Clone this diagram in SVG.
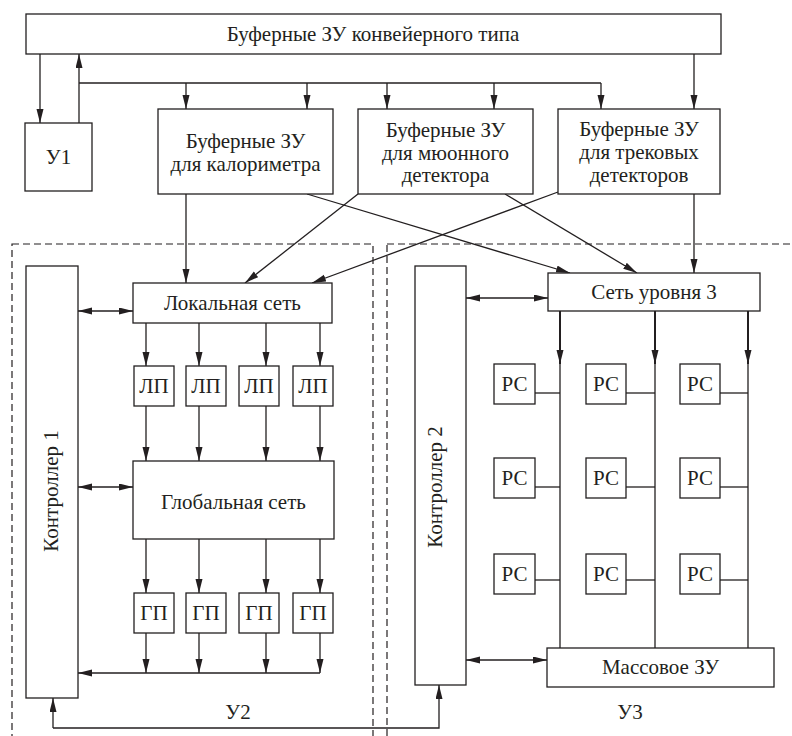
<svg xmlns="http://www.w3.org/2000/svg" width="792" height="736" viewBox="0 0 792 736">
  <style>
    .box { fill: #ffffff; stroke: #231f20; stroke-width: 1.3; }
    .ln { fill: none; stroke: #231f20; stroke-width: 1.3; }
    .thick { fill: none; stroke: #231f20; stroke-width: 2; }
    .dash { fill: none; stroke: #231f20; stroke-width: 1.2; stroke-dasharray: 7 4; }
    text { font-family: "Liberation Serif", "Times New Roman", serif; font-size: 21px; fill: #231f20; text-anchor: middle; }
  </style>
  <defs>
    <marker id="arr" markerUnits="userSpaceOnUse" markerWidth="14" markerHeight="8" refX="14" refY="3.5" orient="auto-start-reverse">
      <path d="M0,0 L14,3.5 L0,7 z" fill="#231f20"/>
    </marker>
  </defs>

  <rect width="792" height="736" fill="#ffffff"/>

  <!-- subsystem frames У2 / У3 -->
  <g id="frames">
    <rect class="dash" x="12" y="244" width="361" height="520"/>
    <rect class="dash" x="387" y="244" width="430" height="520"/>
    <text x="238" y="719">У2</text>
    <text x="630" y="719">У3</text>
  </g>

  <!-- connectors -->
  <g id="connectors">
    <!-- top level -->
    <line class="ln" x1="40" y1="54" x2="40" y2="123" marker-end="url(#arr)"/>
    <line class="ln" x1="79" y1="123" x2="79" y2="54" marker-end="url(#arr)"/>
    <line class="ln" x1="79" y1="83" x2="601" y2="83"/>
    <line class="ln" x1="186" y1="83" x2="186" y2="109" marker-end="url(#arr)"/>
    <line class="ln" x1="307" y1="83" x2="307" y2="109" marker-end="url(#arr)"/>
    <line class="ln" x1="387" y1="83" x2="387" y2="109" marker-end="url(#arr)"/>
    <line class="ln" x1="494" y1="83" x2="494" y2="109" marker-end="url(#arr)"/>
    <line class="ln" x1="601" y1="83" x2="601" y2="109" marker-end="url(#arr)"/>
    <line class="ln" x1="694" y1="54" x2="694" y2="109" marker-end="url(#arr)"/>

    <!-- buffers to networks -->
    <line class="ln" x1="186" y1="194" x2="186" y2="283" marker-end="url(#arr)"/>
    <line class="ln" x1="358" y1="194" x2="245" y2="283" marker-end="url(#arr)"/>
    <line class="ln" x1="558" y1="192" x2="312" y2="283" marker-end="url(#arr)"/>
    <line class="ln" x1="307" y1="194" x2="570" y2="273" marker-end="url(#arr)"/>
    <line class="ln" x1="505" y1="194" x2="637" y2="273" marker-end="url(#arr)"/>
    <line class="ln" x1="694" y1="194" x2="694" y2="273" marker-end="url(#arr)"/>

    <!-- controller 1 links -->
    <line class="ln" x1="78" y1="311" x2="133" y2="311" marker-start="url(#arr)" marker-end="url(#arr)"/>
    <line class="ln" x1="78" y1="487" x2="133" y2="487" marker-start="url(#arr)" marker-end="url(#arr)"/>

    <!-- local network to ЛП -->
    <line class="ln" x1="146" y1="323" x2="146" y2="366" marker-end="url(#arr)"/>
    <line class="ln" x1="199" y1="323" x2="199" y2="366" marker-end="url(#arr)"/>
    <line class="ln" x1="266" y1="323" x2="266" y2="366" marker-end="url(#arr)"/>
    <line class="ln" x1="320" y1="323" x2="320" y2="366" marker-end="url(#arr)"/>
    <!-- ЛП to global network -->
    <line class="ln" x1="146" y1="406" x2="146" y2="461" marker-end="url(#arr)"/>
    <line class="ln" x1="199" y1="406" x2="199" y2="461" marker-end="url(#arr)"/>
    <line class="ln" x1="266" y1="406" x2="266" y2="461" marker-end="url(#arr)"/>
    <line class="ln" x1="320" y1="406" x2="320" y2="461" marker-end="url(#arr)"/>
    <!-- global network to ГП -->
    <line class="ln" x1="146" y1="539" x2="146" y2="593" marker-end="url(#arr)"/>
    <line class="ln" x1="199" y1="539" x2="199" y2="593" marker-end="url(#arr)"/>
    <line class="ln" x1="266" y1="539" x2="266" y2="593" marker-end="url(#arr)"/>
    <line class="ln" x1="320" y1="539" x2="320" y2="593" marker-end="url(#arr)"/>
    <!-- ГП to collector bus -->
    <line class="ln" x1="146" y1="633" x2="146" y2="673" marker-end="url(#arr)"/>
    <line class="ln" x1="199" y1="633" x2="199" y2="673" marker-end="url(#arr)"/>
    <line class="ln" x1="266" y1="633" x2="266" y2="673" marker-end="url(#arr)"/>
    <line class="ln" x1="320" y1="633" x2="320" y2="673" marker-end="url(#arr)"/>
    <line class="ln" x1="320" y1="673" x2="78" y2="673" marker-end="url(#arr)"/>

    <!-- controller 1 to controller 2 -->
    <line class="ln" x1="53" y1="728" x2="53" y2="698" marker-end="url(#arr)"/>
    <polyline class="ln" points="53,728 439,728 439,685" marker-end="url(#arr)"/>

    <!-- controller 2 links -->
    <line class="ln" x1="466" y1="298" x2="548" y2="298" marker-start="url(#arr)" marker-end="url(#arr)"/>
    <line class="ln" x1="466" y1="660" x2="547" y2="660" marker-start="url(#arr)" marker-end="url(#arr)"/>

    <!-- level-3 buses -->
    <line class="thick" x1="560" y1="311" x2="560" y2="364" marker-end="url(#arr)"/>
    <line class="thick" x1="655" y1="311" x2="655" y2="364" marker-end="url(#arr)"/>
    <line class="thick" x1="748" y1="311" x2="748" y2="364" marker-end="url(#arr)"/>
    <line class="ln" x1="560" y1="360" x2="560" y2="648"/>
    <line class="ln" x1="655" y1="360" x2="655" y2="648"/>
    <line class="ln" x1="748" y1="360" x2="748" y2="648"/>

    <!-- РС taps -->
    <line class="ln" x1="535" y1="393" x2="560" y2="393"/>
    <line class="ln" x1="626" y1="393" x2="655" y2="393"/>
    <line class="ln" x1="720" y1="393" x2="748" y2="393"/>
    <line class="ln" x1="535" y1="487" x2="560" y2="487"/>
    <line class="ln" x1="626" y1="487" x2="655" y2="487"/>
    <line class="ln" x1="720" y1="487" x2="748" y2="487"/>
    <line class="ln" x1="535" y1="580" x2="560" y2="580"/>
    <line class="ln" x1="626" y1="580" x2="655" y2="580"/>
    <line class="ln" x1="720" y1="580" x2="748" y2="580"/>
  </g>

  <!-- nodes -->
  <g id="buf-pipeline">
    <rect class="box" x="26" y="14" width="695" height="40"/>
    <text x="373" y="41">Буферные ЗУ конвейерного типа</text>
  </g>
  <g id="u1">
    <rect class="box" x="25" y="123" width="67" height="68"/>
    <text x="58.5" y="164">У1</text>
  </g>
  <g id="buf-calorimeter">
    <rect class="box" x="158" y="109" width="175" height="85"/>
    <text x="245.5" y="148">Буферные ЗУ</text>
    <text x="245.5" y="171">для калориметра</text>
  </g>
  <g id="buf-muon">
    <rect class="box" x="358" y="109" width="175" height="85"/>
    <text x="445.5" y="137">Буферные ЗУ</text>
    <text x="445.5" y="159.5">для мюонного</text>
    <text x="445.5" y="182">детектора</text>
  </g>
  <g id="buf-tracker">
    <rect class="box" x="558" y="109" width="162" height="85"/>
    <text x="639" y="136">Буферные ЗУ</text>
    <text x="639" y="159">для трековых</text>
    <text x="639" y="182">детекторов</text>
  </g>

  <g id="controller1">
    <rect class="box" x="26" y="266" width="52" height="432"/>
    <text transform="translate(58 491) rotate(-90)" x="0" y="0">Контроллер 1</text>
  </g>
  <g id="local-net">
    <rect class="box" x="133" y="283" width="199" height="40"/>
    <text x="232.5" y="310">Локальная сеть</text>
  </g>
  <g id="lp1"><rect class="box" x="134" y="366" width="40" height="40"/><text x="154" y="393">ЛП</text></g>
  <g id="lp2"><rect class="box" x="186" y="366" width="40" height="40"/><text x="206" y="393">ЛП</text></g>
  <g id="lp3"><rect class="box" x="239" y="366" width="40" height="40"/><text x="259" y="393">ЛП</text></g>
  <g id="lp4"><rect class="box" x="293" y="366" width="40" height="40"/><text x="313" y="393">ЛП</text></g>
  <g id="global-net">
    <rect class="box" x="133" y="461" width="201" height="78"/>
    <text x="233.5" y="509">Глобальная сеть</text>
  </g>
  <g id="gp1"><rect class="box" x="134" y="593" width="40" height="40"/><text x="154" y="620">ГП</text></g>
  <g id="gp2"><rect class="box" x="186" y="593" width="40" height="40"/><text x="206" y="620">ГП</text></g>
  <g id="gp3"><rect class="box" x="239" y="593" width="40" height="40"/><text x="259" y="620">ГП</text></g>
  <g id="gp4"><rect class="box" x="293" y="593" width="40" height="40"/><text x="313" y="620">ГП</text></g>

  <g id="controller2">
    <rect class="box" x="415" y="266" width="51" height="419"/>
    <text transform="translate(442 487) rotate(-90)" x="0" y="0">Контроллер 2</text>
  </g>
  <g id="net-level3">
    <rect class="box" x="548" y="273" width="212" height="38"/>
    <text x="654" y="299">Сеть уровня 3</text>
  </g>
  <g id="rs11"><rect class="box" x="494" y="364" width="41" height="40"/><text x="514.5" y="391">РС</text></g>
  <g id="rs12"><rect class="box" x="586" y="364" width="40" height="40"/><text x="606" y="391">РС</text></g>
  <g id="rs13"><rect class="box" x="680" y="364" width="40" height="40"/><text x="700" y="391">РС</text></g>
  <g id="rs21"><rect class="box" x="494" y="458" width="41" height="40"/><text x="514.5" y="485">РС</text></g>
  <g id="rs22"><rect class="box" x="586" y="458" width="40" height="40"/><text x="606" y="485">РС</text></g>
  <g id="rs23"><rect class="box" x="680" y="458" width="40" height="40"/><text x="700" y="485">РС</text></g>
  <g id="rs31"><rect class="box" x="494" y="554" width="41" height="40"/><text x="514.5" y="581">РС</text></g>
  <g id="rs32"><rect class="box" x="586" y="554" width="40" height="40"/><text x="606" y="581">РС</text></g>
  <g id="rs33"><rect class="box" x="680" y="554" width="40" height="40"/><text x="700" y="581">РС</text></g>
  <g id="mass-storage">
    <rect class="box" x="547" y="648" width="227" height="39"/>
    <text x="660.5" y="674">Массовое ЗУ</text>
  </g>
</svg>
